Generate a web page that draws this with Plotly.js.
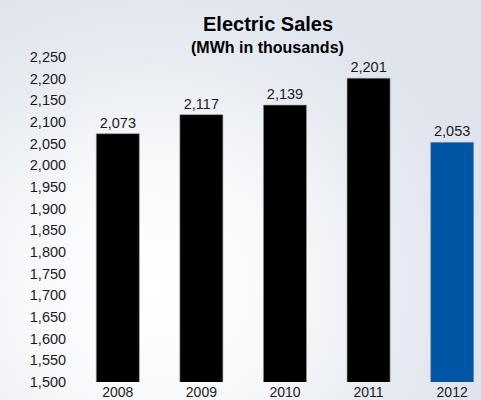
<!DOCTYPE html>
<html>
<head>
<meta charset="utf-8">
<script src="https://cdn.plot.ly/plotly-3.0.1.min.js"></script>
<style>
html,body{margin:0;padding:0;}
body{width:481px;height:400px;overflow:hidden;
background: radial-gradient(ellipse 70% 80% at 32% 72%, #ffffff 0%, #f8f9fb 38%, #e8ecf2 72%, #dfe4ed 100%);}
#chart{width:481px;height:400px;}
</style>
</head>
<body>
<div id="chart"></div>
<script>
const years = ['2008', '2009', '2010', '2011', '2012'];
const sales = [2073, 2117, 2139, 2201, 2053];
const barColors = ['#000000', '#000000', '#000000', '#000000', '#0055a4'];
const yTicks = [1500,1550,1600,1650,1700,1750,1800,1850,1900,1950,2000,2050,2100,2150,2200,2250];

const fontFam = '"Liberation Sans", Arial, Helvetica, sans-serif';

const trace = {
  type: 'bar',
  x: years,
  y: sales,
  marker: {color: barColors, line: {color: '#9a9a9a', width: 0.6}},
  text: sales.map(v => v.toLocaleString('en-US')),
  textposition: 'outside',
  cliponaxis: false,
  textfont: {family: fontFam, size: 14.5, color: '#1a1a1a'},
  hoverinfo: 'none'
};

const layout = {
  width: 481, height: 400,
  paper_bgcolor: 'rgba(0,0,0,0)',
  plot_bgcolor: 'rgba(0,0,0,0)',
  margin: {l: 76, r: 0, t: 57, b: 18, pad: 0},
  bargap: 0.485,
  showlegend: false,
  font: {family: fontFam, size: 14.5, color: '#1a1a1a'},
  xaxis: {
    type: 'category',
    range: [-0.5, 4.345],
    showgrid: false, zeroline: false, showline: false,
    ticks: '', ticklen: 0, ticklabelstandoff: 0,
    tickfont: {family: fontFam, size: 14, color: '#1a1a1a'}
  },
  yaxis: {
    range: [1500, 2250],
    tickvals: yTicks,
    ticktext: yTicks.map(v => v.toLocaleString('en-US')),
    showgrid: false, zeroline: false, showline: false,
    ticks: 'outside', ticklen: 6, tickcolor: 'rgba(0,0,0,0)',
    tickfont: {family: fontFam, size: 14.5, color: '#1a1a1a'}
  },
  annotations: [
    {text: '<b>Electric Sales</b>', xref: 'paper', yref: 'paper', x: 0.47, y: 0, xanchor: 'center', yanchor: 'middle',
     showarrow: false, font: {family: fontFam, size: 20, color: '#000'}},
    {text: '<b>(MWh in thousands)</b>', xref: 'paper', yref: 'paper', x: 0.47, y: 0, xanchor: 'center', yanchor: 'middle',
     showarrow: false, font: {family: fontFam, size: 16, color: '#000'}}
  ]
};
// place title annotations relative to plot area (plot top = 57, height 325)
const plotH = 400 - 57 - 18;
const plotW = 481 - 76;
layout.annotations[0].y = 1 + (57 - 24) / plotH;
layout.annotations[1].y = 1 + (57 - 47) / plotH;
layout.annotations[0].x = (267.5 - 76) / plotW;
layout.annotations[1].x = (267.5 - 76) / plotW;

Plotly.newPlot('chart', [trace], layout, {displayModeBar: false, staticPlot: true});
</script>
</body>
</html>
